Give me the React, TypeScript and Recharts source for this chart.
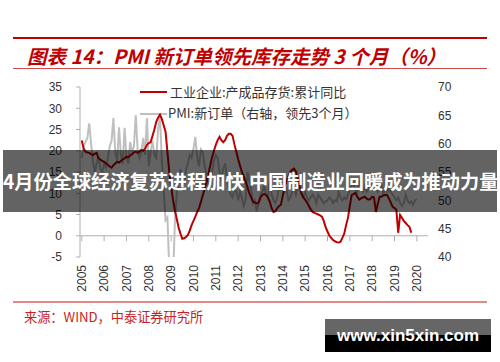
import React from 'react';
import { LineChart, Line, XAxis, YAxis, ReferenceLine } from 'recharts';

const START_YEAR = 2005;

// 工业企业:产成品存货:累计同比 (%), monthly from 2005-01
const inventoryYoY: number[] = [
  22.4, 20.5, 19.8, 19.6, 19.5, 19.2, 19.0, 19.3, 19.5, 18.2, 17.9, 17.6,
  17.4, 17.0, 16.7, 16.3, 16.0, 16.6, 17.0, 17.4, 17.2, 17.6, 18.0, 18.2,
  18.6, 18.5, 18.9, 19.2, 19.6, 19.8, 19.5, 19.8, 20.2, 20.0, 20.5, 21.4,
  21.8, 22.0, 23.5, 25.0, 26.8, 27.8, 28.5, 27.5, 26.0, 24.5, 19.8, 15.0,
  11.5, 8.5, 6.0, 4.0, 2.0, 0.5, -0.7, -0.6, -0.3, 0.2, 1.2, 2.5,
  3.5, 4.5, 5.6, 6.5, 8.0, 9.5, 11.0, 12.7, 14.5, 16.5, 18.5, 20.0,
  21.4, 22.5, 23.3, 22.5, 22.0, 22.5, 23.5, 24.0, 24.0, 23.5, 21.5, 19.8,
  18.0, 16.5, 15.0, 14.0, 12.7, 11.5, 10.0, 9.0, 8.0, 7.8, 7.6, 7.8,
  9.0, 9.6, 9.8, 9.6, 9.0, 8.0, 6.5, 5.6, 5.8, 6.5, 7.0, 7.3,
  9.5, 11.5, 13.0, 14.0, 15.0, 15.5, 15.8, 15.2, 13.5, 11.5, 10.0, 9.0,
  8.5, 7.8, 7.0, 6.2, 5.6, 5.4, 5.2, 5.0, 4.8, 4.5, 3.5, 2.0,
  1.0, 0.0, -0.5, -1.0, -1.3, -1.5, -1.6, -1.4, -0.5, 0.5, 2.5, 4.2,
  7.0, 9.6, 9.8, 10.1, 9.2, 8.5, 8.8, 9.0, 9.2, 8.8, 8.5, 8.6,
  9.2, 9.0, 5.6, 7.5, 9.2, 9.2, 9.5, 9.6, 9.6, 8.8, 7.8, 6.8,
  6.5, 6.1, 0.7, 4.9, 4.2, 3.5, 3.0, 2.5, 2.1, 0.7,
];

// PMI:新订单 (右轴，领先3个月), monthly from 2005-01
const pmiNewOrders: number[] = [
  57.5, 59.5, 60.3, 61.0, 63.6, 60.0, 56.8, 55.0, 56.5, 57.8, 55.5, 55.0,
  56.5, 55.8, 57.5, 59.5, 60.5, 64.5, 58.5, 57.0, 62.9, 58.0, 56.5, 62.8,
  57.5, 56.5, 60.3, 58.5, 59.5, 65.0, 59.0, 57.5, 58.5, 61.0, 58.0, 64.5,
  56.0, 58.5, 60.5, 58.0, 57.5, 62.5, 65.0, 57.0, 52.0, 46.5, 47.0, 38.0,
  32.0, 36.0, 46.0, 51.0, 53.0, 55.5, 54.5, 53.0, 55.5, 56.5, 58.0, 57.5,
  59.0, 61.2, 57.5, 56.0, 59.0, 58.5, 56.0, 54.5, 52.5, 53.5, 55.0, 57.0,
  58.0, 57.5, 55.0, 54.0, 55.5, 56.5, 54.0, 52.0, 51.0, 50.5, 52.0, 51.5,
  50.0, 51.5, 50.5, 49.0, 50.0, 55.0, 53.5, 52.0, 49.5, 50.0, 48.0, 49.5,
  51.0, 51.5, 52.5, 51.0, 50.5, 53.5, 51.0, 50.0, 49.5, 50.5, 52.5, 52.0,
  52.5, 51.5, 52.0, 50.0, 50.5, 51.5, 52.0, 51.0, 52.5, 52.5, 51.0, 50.5,
  51.5, 50.5, 50.0, 50.5, 51.0, 50.5, 49.5, 51.0, 50.5, 50.0, 49.5, 49.8,
  50.0, 50.5, 50.2, 49.5, 50.0, 49.8, 51.5, 50.5, 50.0, 50.5, 50.2, 51.0,
  52.0, 52.5, 53.0, 52.0, 51.5, 53.5, 52.0, 51.5, 52.5, 51.5, 52.0, 53.0,
  52.5, 52.0, 53.0, 51.5, 52.0, 53.0, 51.0, 52.5, 51.5, 52.0, 51.5, 51.0,
  50.5, 50.0, 50.5, 49.5, 49.0, 49.5, 51.0, 50.0, 49.5, 49.8, 49.2, 50.0,
  50.2,
];

const yearTicks = [2005, 2006, 2007, 2008, 2009, 2010, 2011, 2012, 2013, 2014, 2015, 2016, 2017, 2018, 2019, 2020];
const leftTicks = [-5, 0, 5, 10, 15, 20, 25, 30, 35];
const rightTicks = [40, 45, 50, 55, 60, 65, 70];

const invName = '工业企业:产成品存货:累计同比';
const pmiName = 'PMI:新订单（右轴，领先3个月）';
const titleText = '图表 14：PMI 新订单领先库存走势 3 个月（%）';
const sourceText = '来源：WIND，中泰证券研究所';
const bannerText = '4月份全球经济复苏进程加快 中国制造业回暖成为推动力量';
const watermarkText = 'www.xin5xin.com';

const data = pmiNewOrders.map((p, i) => ({
  t: START_YEAR + i / 12,
  inv: i < inventoryYoY.length ? inventoryYoY[i] : null,
  pmi: p,
}));

const AXIS = '#b0b0b0';
const LABEL = '#333333';
const LATIN = '"Liberation Sans", Arial, sans-serif';
const CJK = '"Noto Sans CJK SC", "Noto Sans", sans-serif';

const YearTick = (props: any) => {
  const { x, y, payload } = props;
  return (
    <g transform={`translate(${x},${y + 8})`}>
      <text transform="rotate(-90)" textAnchor="end" dy="0.36em" fontSize={12} fill={LABEL} fontFamily={LATIN}>
        {payload.value}
      </text>
    </g>
  );
};

export default function App() {
  return (
    <div style={{ position: 'absolute', left: 0, top: 0, width: 500, height: 362, background: '#fff', overflow: 'hidden', fontFamily: CJK }}>
      <div style={{ position: 'absolute', left: 13, top: 37, width: 474, height: 2, background: '#c00000' }} />
      <div style={{ position: 'absolute', left: 27, top: 43.5, lineHeight: '24px', fontSize: 19.5, fontStyle: 'italic', fontWeight: 700, color: '#c00000', whiteSpace: 'nowrap' }}>
        {titleText}
      </div>
      <div style={{ position: 'absolute', left: 13, top: 68, width: 474, height: 1, background: '#d04a4a' }} />

      {/* legend (drawn beneath the series) */}
      <div style={{ position: 'absolute', left: 140, top: 90.5, width: 27, height: 2.5, background: '#c00000' }} />
      <div style={{ position: 'absolute', left: 170, top: 83, lineHeight: '18px', fontSize: 13, color: LABEL, whiteSpace: 'nowrap' }}>{invName}</div>
      <div style={{ position: 'absolute', left: 140, top: 112.5, width: 27, height: 2.5, background: '#bfbfbf' }} />
      <div style={{ position: 'absolute', left: 168, top: 104, lineHeight: '18px', fontSize: 13, color: LABEL, whiteSpace: 'nowrap' }}>{pmiName}</div>

      <div style={{ position: 'absolute', left: 0, top: 0 }}>
        <LineChart width={500} height={362} data={data} margin={{ top: 87, right: 22, bottom: 65, left: 30 }}>
          <XAxis
            dataKey="t"
            type="number"
            domain={[2004.92, 2020.5]}
            ticks={yearTicks}
            interval={0}
            axisLine={false}
            tickLine={false}
            tickSize={0}
            tickMargin={0}
            height={40}
            tick={<YearTick />}
          />
          <YAxis
            yAxisId="left"
            domain={[-5, 35]}
            ticks={leftTicks}
            interval={0}
            width={50}
            axisLine={{ stroke: AXIS }}
            tickLine={{ stroke: AXIS }}
            tickSize={4}
            tickMargin={14}
            tick={{ fontSize: 12, fill: LABEL, fontFamily: LATIN }}
          />
          <YAxis
            yAxisId="right"
            orientation="right"
            domain={[40, 70]}
            ticks={rightTicks}
            interval={0}
            allowDataOverflow
            width={50}
            axisLine={false}
            tickLine={false}
            tickSize={0}
            tickMargin={10}
            tick={{ fontSize: 12, fill: LABEL, fontFamily: LATIN }}
          />
          <ReferenceLine yAxisId="left" y={0} stroke={AXIS} strokeWidth={1} />
          {yearTicks.map((yr) => (
            <ReferenceLine
              key={yr}
              yAxisId="left"
              segment={[{ x: yr, y: 0 }, { x: yr, y: -1.3 }]}
              stroke={AXIS}
              strokeWidth={1}
            />
          ))}
          <Line yAxisId="right" dataKey="pmi" name={pmiName} stroke="#bfbfbf" strokeWidth={2} dot={false} isAnimationActive={false} />
          <Line yAxisId="left" dataKey="inv" name={invName} stroke="#c00000" strokeWidth={2} dot={false} isAnimationActive={false} />
        </LineChart>
      </div>

      <div style={{ position: 'absolute', left: 13, top: 300.5, width: 474, height: 2, background: '#e08a8a' }} />
      <div style={{ position: 'absolute', left: 24, top: 309, lineHeight: '16px', fontSize: 13.2, color: '#c81e1e', whiteSpace: 'nowrap' }}>
        {sourceText}
      </div>

      <div style={{ position: 'absolute', left: 3, top: 150, width: 494, height: 62, background: 'rgba(0,0,0,0.61)', color: '#fff', fontWeight: 700, fontSize: 19.2, lineHeight: '62px', textAlign: 'center', whiteSpace: 'nowrap' }}>
        {bannerText}
      </div>

      <div style={{ position: 'absolute', left: 325, top: 319, width: 166, height: 33, background: 'linear-gradient(to bottom, #666666 0%, #666666 50%, #000000 50%, #000000 100%)', color: '#fff', fontFamily: LATIN, fontWeight: 700, fontSize: 17, lineHeight: '33px', textAlign: 'center', whiteSpace: 'nowrap' }}>
        {watermarkText}
      </div>
    </div>
  );
}
